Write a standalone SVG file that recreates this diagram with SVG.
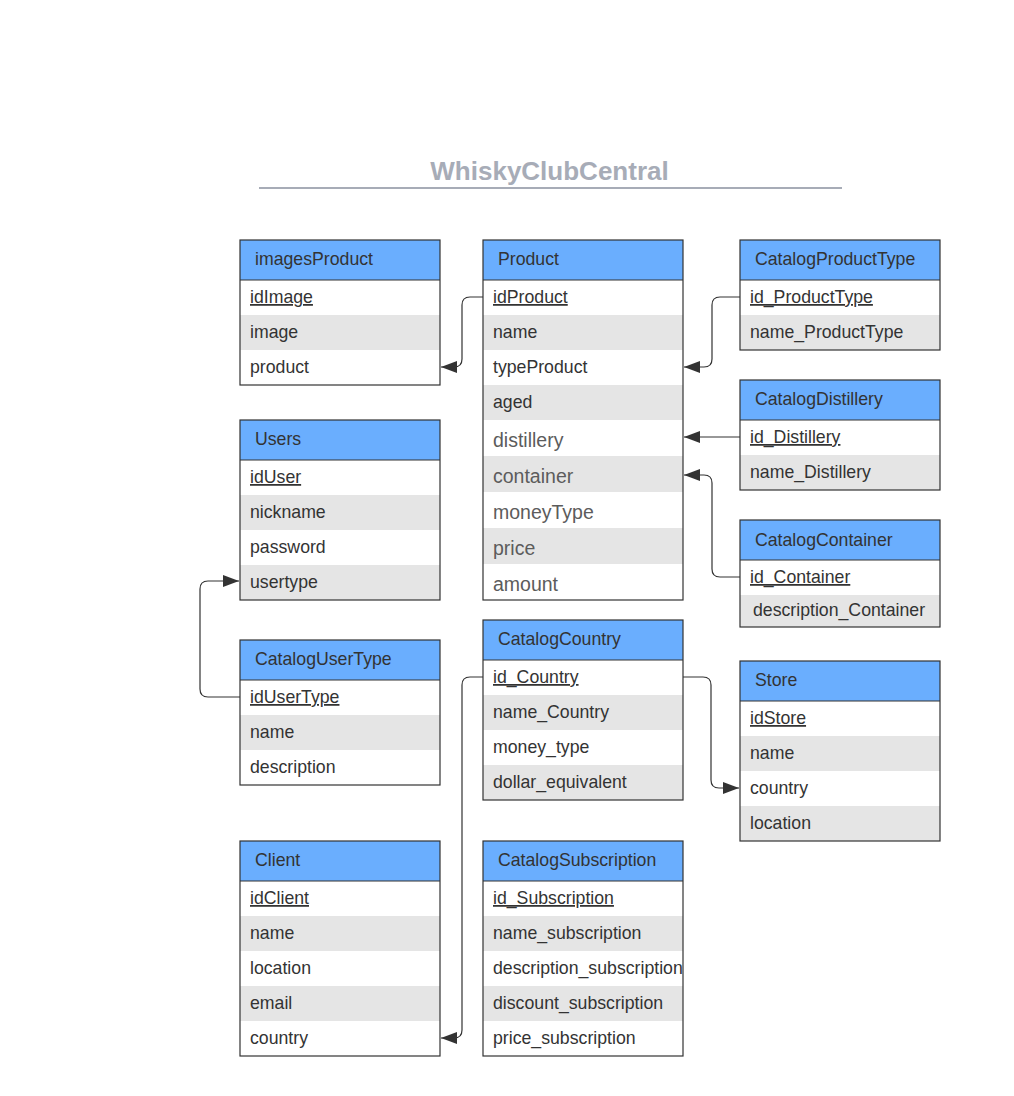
<svg xmlns="http://www.w3.org/2000/svg" width="1014" height="1096" viewBox="0 0 1014 1096">
<style>
.hd{fill:#6AAEFE}
.g{fill:#E5E5E5}
.w{fill:#FFFFFF}
.bd{fill:none;stroke:#333;stroke-width:1.2}
.ln{stroke:#333;stroke-width:1.2}
text{font-family:"Liberation Sans",Arial,sans-serif;font-size:17.7px;fill:#333}
.k{text-decoration:underline}
.lt{font-size:19.5px;fill:#5C5C5C}
.title{font-size:26px;font-weight:bold;fill:#A7ACB7}
.cn{fill:none;stroke:#333;stroke-width:1.2;marker-end:url(#ah)}
</style>
<defs>
<marker id="ah" viewBox="0 0 16 12" refX="16" refY="6" markerWidth="16" markerHeight="12" markerUnits="userSpaceOnUse" orient="auto">
<path d="M0,0 L16,6 L0,12 z" fill="#333"/>
</marker>
</defs>
<rect x="0" y="0" width="1014" height="1096" fill="#FFFFFF"/>
<g id="title">
<text class="title" x="549.5" y="180" text-anchor="middle">WhiskyClubCentral</text>
<line x1="259" y1="188" x2="842" y2="188" stroke="#A7ACB7" stroke-width="2"/>
</g>

<g id="imagesProduct">
<rect class="hd" x="240" y="240" width="200" height="40"/>
<rect class="w" x="240" y="280" width="200" height="35"/>
<rect class="g" x="240" y="315" width="200" height="35"/>
<rect class="w" x="240" y="350" width="200" height="35"/>
<line class="ln" x1="240" y1="280" x2="440" y2="280"/>
<rect class="bd" x="240" y="240" width="200" height="145"/>
<text x="255" y="265">imagesProduct</text>
<text class="k" x="250" y="303">idImage</text>
<text x="250" y="338">image</text>
<text x="250" y="373">product</text>
</g>

<g id="Product">
<rect class="hd" x="483" y="240" width="200" height="40"/>
<rect class="w" x="483" y="280" width="200" height="35"/>
<rect class="g" x="483" y="315" width="200" height="35"/>
<rect class="w" x="483" y="350" width="200" height="35"/>
<rect class="g" x="483" y="385" width="200" height="35"/>
<rect class="w" x="483" y="420" width="200" height="36"/>
<rect class="g" x="483" y="456" width="200" height="36"/>
<rect class="w" x="483" y="492" width="200" height="36"/>
<rect class="g" x="483" y="528" width="200" height="36"/>
<rect class="w" x="483" y="564" width="200" height="36"/>
<line class="ln" x1="483" y1="280" x2="683" y2="280"/>
<rect class="bd" x="483" y="240" width="200" height="360"/>
<text x="498" y="265">Product</text>
<text class="k" x="493" y="303">idProduct</text>
<text x="493" y="338">name</text>
<text x="493" y="373">typeProduct</text>
<text x="493" y="408">aged</text>
<text class="lt" x="493" y="446.5">distillery</text>
<text class="lt" x="493" y="482.5">container</text>
<text class="lt" x="493" y="518.5">moneyType</text>
<text class="lt" x="493" y="554.5">price</text>
<text class="lt" x="493" y="590.5">amount</text>
</g>

<g id="CatalogProductType">
<rect class="hd" x="740" y="240" width="200" height="40"/>
<rect class="w" x="740" y="280" width="200" height="35"/>
<rect class="g" x="740" y="315" width="200" height="35"/>
<line class="ln" x1="740" y1="280" x2="940" y2="280"/>
<rect class="bd" x="740" y="240" width="200" height="110"/>
<text x="755" y="265">CatalogProductType</text>
<text class="k" x="750" y="303">id_ProductType</text>
<text x="750" y="338">name_ProductType</text>
</g>

<g id="CatalogDistillery">
<rect class="hd" x="740" y="380" width="200" height="40"/>
<rect class="w" x="740" y="420" width="200" height="35"/>
<rect class="g" x="740" y="455" width="200" height="35"/>
<line class="ln" x1="740" y1="420" x2="940" y2="420"/>
<rect class="bd" x="740" y="380" width="200" height="110"/>
<text x="755" y="405">CatalogDistillery</text>
<text class="k" x="750" y="443">id_Distillery</text>
<text x="750" y="478">name_Distillery</text>
</g>

<g id="CatalogContainer">
<rect class="hd" x="740" y="520" width="200" height="40"/>
<rect class="w" x="740" y="560" width="200" height="35"/>
<rect class="g" x="740" y="595" width="200" height="32"/>
<line class="ln" x1="740" y1="560" x2="940" y2="560"/>
<rect class="bd" x="740" y="520" width="200" height="107"/>
<text x="755" y="546">CatalogContainer</text>
<text class="k" x="750" y="583">id_Container</text>
<text x="753" y="616">description_Container</text>
</g>

<g id="Users">
<rect class="hd" x="240" y="420" width="200" height="40"/>
<rect class="w" x="240" y="460" width="200" height="35"/>
<rect class="g" x="240" y="495" width="200" height="35"/>
<rect class="w" x="240" y="530" width="200" height="35"/>
<rect class="g" x="240" y="565" width="200" height="35"/>
<line class="ln" x1="240" y1="460" x2="440" y2="460"/>
<rect class="bd" x="240" y="420" width="200" height="180"/>
<text x="255" y="445">Users</text>
<text class="k" x="250" y="483">idUser</text>
<text x="250" y="518">nickname</text>
<text x="250" y="553">password</text>
<text x="250" y="588">usertype</text>
</g>

<g id="CatalogUserType">
<rect class="hd" x="240" y="640" width="200" height="40"/>
<rect class="w" x="240" y="680" width="200" height="35"/>
<rect class="g" x="240" y="715" width="200" height="35"/>
<rect class="w" x="240" y="750" width="200" height="35"/>
<line class="ln" x1="240" y1="680" x2="440" y2="680"/>
<rect class="bd" x="240" y="640" width="200" height="145"/>
<text x="255" y="665">CatalogUserType</text>
<text class="k" x="250" y="703">idUserType </text>
<text x="250" y="738">name</text>
<text x="250" y="773">description</text>
</g>

<g id="CatalogCountry">
<rect class="hd" x="483" y="620" width="200" height="40"/>
<rect class="w" x="483" y="660" width="200" height="35"/>
<rect class="g" x="483" y="695" width="200" height="35"/>
<rect class="w" x="483" y="730" width="200" height="35"/>
<rect class="g" x="483" y="765" width="200" height="35"/>
<line class="ln" x1="483" y1="660" x2="683" y2="660"/>
<rect class="bd" x="483" y="620" width="200" height="180"/>
<text x="498" y="645">CatalogCountry</text>
<text class="k" x="493" y="683">id_Country</text>
<text x="493" y="718">name_Country</text>
<text x="493" y="753">money_type</text>
<text x="493" y="788">dollar_equivalent</text>
</g>

<g id="Store">
<rect class="hd" x="740" y="661" width="200" height="40"/>
<rect class="w" x="740" y="701" width="200" height="35"/>
<rect class="g" x="740" y="736" width="200" height="35"/>
<rect class="w" x="740" y="771" width="200" height="35"/>
<rect class="g" x="740" y="806" width="200" height="35"/>
<line class="ln" x1="740" y1="701" x2="940" y2="701"/>
<rect class="bd" x="740" y="661" width="200" height="180"/>
<text x="755" y="686">Store</text>
<text class="k" x="750" y="724">idStore</text>
<text x="750" y="759">name</text>
<text x="750" y="794">country</text>
<text x="750" y="829">location</text>
</g>

<g id="Client">
<rect class="hd" x="240" y="841" width="200" height="40"/>
<rect class="w" x="240" y="881" width="200" height="35"/>
<rect class="g" x="240" y="916" width="200" height="35"/>
<rect class="w" x="240" y="951" width="200" height="35"/>
<rect class="g" x="240" y="986" width="200" height="35"/>
<rect class="w" x="240" y="1021" width="200" height="35"/>
<line class="ln" x1="240" y1="881" x2="440" y2="881"/>
<rect class="bd" x="240" y="841" width="200" height="215"/>
<text x="255" y="866">Client</text>
<text class="k" x="250" y="904">idClient</text>
<text x="250" y="939">name</text>
<text x="250" y="974">location</text>
<text x="250" y="1009">email</text>
<text x="250" y="1044">country</text>
</g>

<g id="CatalogSubscription">
<rect class="hd" x="483" y="841" width="200" height="40"/>
<rect class="w" x="483" y="881" width="200" height="35"/>
<rect class="g" x="483" y="916" width="200" height="35"/>
<rect class="w" x="483" y="951" width="200" height="35"/>
<rect class="g" x="483" y="986" width="200" height="35"/>
<rect class="w" x="483" y="1021" width="200" height="35"/>
<line class="ln" x1="483" y1="881" x2="683" y2="881"/>
<rect class="bd" x="483" y="841" width="200" height="215"/>
<text x="498" y="866">CatalogSubscription</text>
<text class="k" x="493" y="904">id_Subscription</text>
<text x="493" y="939">name_subscription</text>
<text x="493" y="974">description_subscription</text>
<text x="493" y="1009">discount_subscription</text>
<text x="493" y="1044">price_subscription</text>
</g>

<g id="connectors">
<path class="cn" d="M483,297 L470,297 Q462,297 462,305 L462,359 Q462,367 454,367 L441,367"/>
<path class="cn" d="M740,297 L720,297 Q712,297 712,305 L712,359 Q712,367 704,367 L684,367"/>
<path class="cn" d="M740,437 L684,437"/>
<path class="cn" d="M740,577 L720,577 Q712,577 712,569 L712,483 Q712,475 704,475 L684,475"/>
<path class="cn" d="M240,697 L208,697 Q200,697 200,689 L200,589 Q200,581 208,581 L239,581"/>
<path class="cn" d="M683,677 L703,677 Q711,677 711,685 L711,780 Q711,788 719,788 L739,788"/>
<path class="cn" d="M483,677 L470,677 Q462,677 462,685 L462,1030 Q462,1038 454,1038 L441,1038"/>
</g>
</svg>
